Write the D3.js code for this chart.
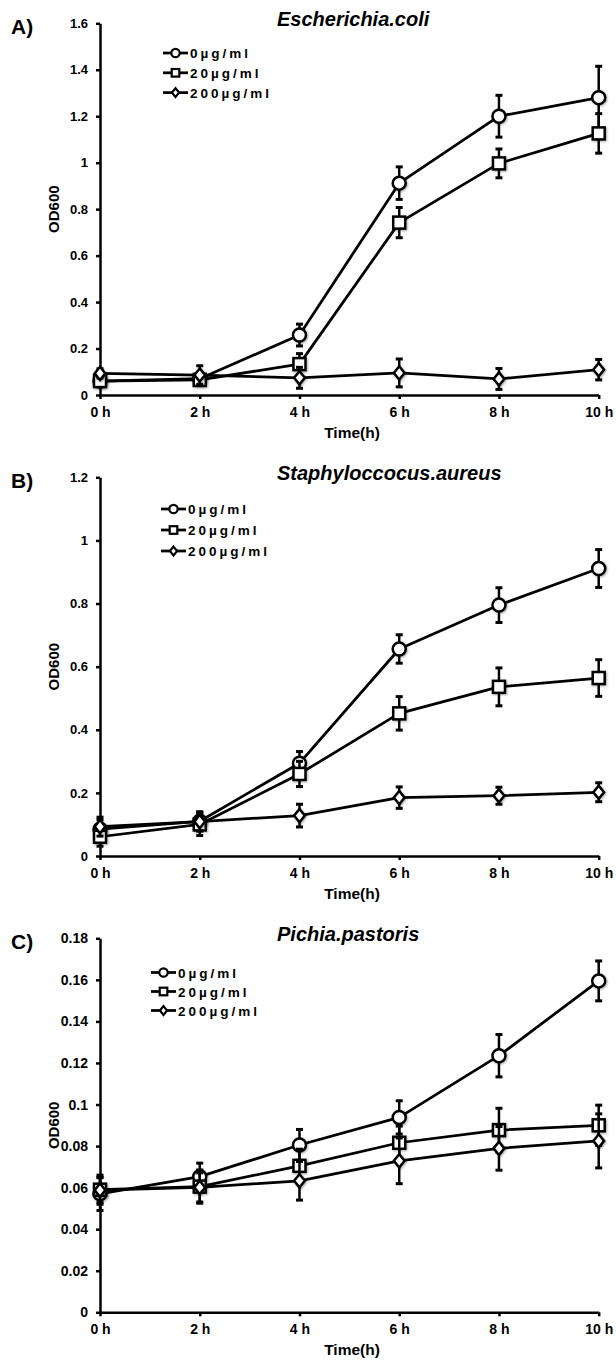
<!DOCTYPE html>
<html lang="en">
    <head>
        <meta charset="utf-8">
        <title>D3</title>
        <script type="text/javascript" src="https://cdnjs.cloudflare.com/ajax/libs/d3/7.8.5/d3.min.js"></script>
        <style type="text/css">
            body { margin: 0; background: #fff; }
            text { font-family: "Liberation Sans", Arial, sans-serif; font-weight: bold; fill: #000; }
        </style>
    </head>
    <body>
        <script type="text/javascript">
            var w = 616;
            var h = 1363;

            var times = ["0 h", "2 h", "4 h", "6 h", "8 h", "10 h"];
            var doses = ["0\u00b5g/ml", "20\u00b5g/ml", "200\u00b5g/ml"];

            // A) Escherichia coli
            var ecoli0 = [0.06, 0.07, 0.258, 0.912, 1.20, 1.28];
            var ecoli0Err = [0.015, 0.02, 0.047, 0.07, 0.09, 0.135];
            var ecoli20 = [0.06, 0.065, 0.133, 0.742, 0.997, 1.126];
            var ecoli20Err = [0.015, 0.015, 0.045, 0.065, 0.062, 0.085];
            var ecoli200 = [0.093, 0.086, 0.074, 0.095, 0.069, 0.109];
            var ecoli200Err = [0.02, 0.04, 0.045, 0.06, 0.045, 0.044];

            // B) Staphylococcus aureus
            var staph0 = [0.085, 0.11, 0.294, 0.656, 0.795, 0.911];
            var staph0Err = [0.03, 0.03, 0.037, 0.045, 0.055, 0.06];
            var staph20 = [0.061, 0.1, 0.26, 0.452, 0.536, 0.564];
            var staph20Err = [0.03, 0.035, 0.04, 0.053, 0.06, 0.058];
            var staph200 = [0.093, 0.109, 0.128, 0.185, 0.191, 0.202];
            var staph200Err = [0.03, 0.03, 0.036, 0.034, 0.027, 0.03];

            // C) Pichia pastoris
            var pichia0 = [0.057, 0.0653, 0.0805, 0.0938, 0.1235, 0.1595];
            var pichia0Err = [0.008, 0.0065, 0.0075, 0.008, 0.0102, 0.0096];
            var pichia20 = [0.059, 0.0605, 0.0705, 0.0816, 0.0877, 0.090];
            var pichia20Err = [0.007, 0.008, 0.008, 0.008, 0.0105, 0.0097];
            var pichia200 = [0.0588, 0.0601, 0.0633, 0.0729, 0.0789, 0.0825];
            var pichia200Err = [0.006, 0.007, 0.0093, 0.011, 0.0105, 0.013];

            var yMaxA = 1.6, yStepA = 0.2;
            var yMaxB = 1.2, yStepB = 0.2;
            var yMaxC = 0.18, yStepC = 0.02;

            var panels = [
                { label: "A)", title: "Escherichia.coli", top: 23.3, bottom: 395, ymax: yMaxA, step: yStepA,
                  fs: 13, legX: 163, legY: 53, legGap: 19.8, means: [ecoli0, ecoli20, ecoli200], errs: [ecoli0Err, ecoli20Err, ecoli200Err] },
                { label: "B)", title: "Staphyloccocus.aureus", top: 477.3, bottom: 856, ymax: yMaxB, step: yStepB,
                  fs: 13, legX: 161, legY: 509, legGap: 21, means: [staph0, staph20, staph200], errs: [staph0Err, staph20Err, staph200Err] },
                { label: "C)", title: "Pichia.pastoris", top: 938.3, bottom: 1312.3, ymax: yMaxC, step: yStepC,
                  fs: 14, legX: 151, legY: 972.5, legGap: 19, means: [pichia0, pichia20, pichia200], errs: [pichia0Err, pichia20Err, pichia200Err] }
            ];

            var svg = d3.select("body")
                        .append("svg")
                        .attr("width", w)
                        .attr("height", h);

            var defs = svg.append("defs");
            var shadow = defs.append("filter").attr("id", "glow")
                .attr("x", "-50%").attr("y", "-50%").attr("width", "200%").attr("height", "200%");
            shadow.append("feDropShadow")
                .attr("dx", 1).attr("dy", 1).attr("stdDeviation", 1.2)
                .attr("flood-color", "#000").attr("flood-opacity", 0.35);

            var x = d3.scalePoint().domain(times).range([100, 598.7]);

            function marker(sel, kind, size) {
                if (kind === 0) {
                    return sel.append("circle").attr("r", size);
                } else if (kind === 1) {
                    return sel.append("rect")
                        .attr("x", -size).attr("y", -size)
                        .attr("width", size * 2).attr("height", size * 2);
                }
                var hw = size * 0.85, hh = size * 1.05;
                return sel.append("path")
                    .attr("d", "M0," + (-hh) + "L" + hw + ",0L0," + hh + "L" + (-hw) + ",0Z");
            }

            var sizes = [6.5, 6, 6.3];

            panels.forEach(function(p) {
                var g = svg.append("g");
                var y = d3.scaleLinear().domain([0, p.ymax]).range([p.bottom, p.top]);
                var tickVals = d3.range(0, p.ymax + p.step / 2, p.step);

                // y axis
                var yAxis = g.append("g")
                    .attr("transform", "translate(100,0)")
                    .call(d3.axisLeft(y).tickValues(tickVals).tickSize(4).tickSizeOuter(0).tickPadding(8)
                        .tickFormat(function(d) { return String(+d.toFixed(3)); }));
                // x axis
                var xAxis = g.append("g")
                    .attr("transform", "translate(0," + p.bottom + ")")
                    .call(d3.axisBottom(x).tickSize(4).tickSizeOuter(0).tickPadding(8));

                [yAxis, xAxis].forEach(function(a) {
                    a.select(".domain").attr("stroke", "#000").attr("stroke-width", 2.5);
                    a.selectAll(".tick line").attr("stroke", "#000").attr("stroke-width", 2.5);
                    a.selectAll(".tick text")
                        .attr("font-family", "Liberation Sans, Arial, sans-serif")
                        .attr("font-weight", "bold")
                        .attr("font-size", p.fs + "px")
                        .attr("fill", "#000");
                });
                xAxis.selectAll(".tick text").attr("font-size", "14px");

                // axis titles
                g.append("text")
                    .attr("x", 352).attr("y", p.bottom + 43)
                    .attr("text-anchor", "middle")
                    .attr("font-size", "15.5px")
                    .text("Time(h)");
                g.append("text")
                    .attr("transform", "translate(59," + ((p.top + p.bottom) / 2) + ") rotate(-90)")
                    .attr("text-anchor", "middle")
                    .attr("font-size", "15px")
                    .text("OD600");

                // panel label and title
                g.append("text")
                    .attr("x", 11).attr("y", p.top + 11)
                    .attr("font-size", "21px")
                    .text(p.label);
                g.append("text")
                    .attr("x", 277).attr("y", p.top + 3)
                    .attr("font-size", "20px")
                    .attr("font-style", "italic")
                    .text(p.title);

                // series
                var line = d3.line()
                    .x(function(d, i) { return x(times[i]); })
                    .y(function(d) { return y(d); });

                p.means.forEach(function(vals, s) {
                    var sg = g.append("g");
                    var errs = p.errs[s];
                    vals.forEach(function(v, i) {
                        var cx = x(times[i]);
                        var hi = y(v + errs[i]), lo = y(v - errs[i]);
                        sg.append("line")
                            .attr("x1", cx).attr("x2", cx).attr("y1", hi).attr("y2", lo)
                            .attr("stroke", "#000").attr("stroke-width", 2.5);
                        [hi, lo].forEach(function(yy) {
                            sg.append("line")
                                .attr("x1", cx - 3.5).attr("x2", cx + 3.5).attr("y1", yy).attr("y2", yy)
                                .attr("stroke", "#000").attr("stroke-width", 3);
                        });
                    });
                    sg.append("path")
                        .attr("d", line(vals))
                        .attr("fill", "none")
                        .attr("stroke", "#000")
                        .attr("stroke-width", 2.75)
                        .attr("stroke-linejoin", "round");
                    vals.forEach(function(v, i) {
                        var m = sg.append("g")
                            .attr("transform", "translate(" + x(times[i]) + "," + y(v) + ")")
                            .attr("filter", "url(#glow)");
                        marker(m, s, sizes[s])
                            .attr("fill", "#fff")
                            .attr("stroke", "#000")
                            .attr("stroke-width", 2.5);
                    });
                });

                // legend
                doses.forEach(function(name, s) {
                    var ly = p.legY + s * p.legGap;
                    var lg = g.append("g");
                    lg.append("line")
                        .attr("x1", p.legX).attr("x2", p.legX + 25)
                        .attr("y1", ly).attr("y2", ly)
                        .attr("stroke", "#000").attr("stroke-width", 2.75);
                    var m = lg.append("g").attr("transform", "translate(" + (p.legX + 12.5) + "," + ly + ")");
                    marker(m, s, s === 1 ? 3.8 : 4.2)
                        .attr("fill", "#fff")
                        .attr("stroke", "#000")
                        .attr("stroke-width", 2.2);
                    lg.append("text")
                        .attr("x", p.legX + 27).attr("y", ly + 5)
                        .attr("font-size", "13.5px")
                        .attr("letter-spacing", "3px")
                        .text(name);
                });
            });
        </script>
    </body>
</html>
